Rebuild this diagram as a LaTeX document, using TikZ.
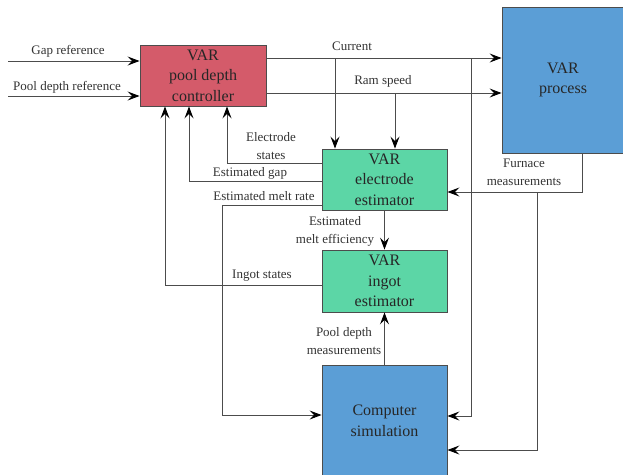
\documentclass[tikz,border=0pt]{standalone}
\usepackage{fontspec}
\setmainfont{Liberation Serif}
\usepackage{xcolor}
\usetikzlibrary{arrows.meta,positioning,calc}

\definecolor{ctrlred}{HTML}{D45B6A}
\definecolor{procblue}{HTML}{5B9ED6}
\definecolor{estgreen}{HTML}{5CD6A6}

\tikzset{
  blk/.style={draw=black!70, line width=0.9pt, align=center, inner sep=0pt,
    text=black!85, font=\fontsize{16}{20.5}\selectfont},
  sig/.style={draw=black!70, line width=0.9pt},
  arr/.style={sig, -{Stealth[length=12pt,width=9pt,inset=4.5pt,black]}},
  lbl/.style={align=center, inner sep=0pt, text=black!80,
    font=\fontsize{13}{18}\selectfont},
}

\begin{document}
\begin{tikzpicture}[x=1pt,y=-1pt]
\useasboundingbox (0,0) rectangle (623,474);

% blocks
\node[blk, fill=ctrlred, minimum width=126pt, minimum height=61pt] (ctrl) at (203,75.5) {VAR\\pool depth\\controller};
\node[blk, fill=procblue, minimum width=122pt, minimum height=146pt] (proc) at (563,80) {VAR\\process};
\node[blk, fill=estgreen, minimum width=125pt, minimum height=61pt] (elec) at (384.5,179.5) {VAR\\electrode\\estimator};
\node[blk, fill=estgreen, minimum width=125pt, minimum height=62pt] (ingot) at (384.5,281) {VAR\\ingot\\estimator};
\node[blk, fill=procblue, minimum width=125pt, minimum height=112pt] (sim) at (384.5,421) {Computer\\simulation};

% junction points
\coordinate (gapin) at (8,61);
\coordinate (poolin) at (8,96);
\coordinate (curtap) at (335,58);
\coordinate (curdn) at (471,58);
\coordinate (ramtap) at (395,93);
\coordinate (furn) at (582,192);
\coordinate (furntap) at (537,192);
\coordinate (esx) at (227,163);
\coordinate (egx) at (189,181);
\coordinate (emx) at (222,205);
\coordinate (isx) at (165,285);
\coordinate (simA) at (0,416);
\coordinate (simB) at (0,415);
\coordinate (simC) at (0,450);

% inputs
\draw[arr] (gapin) -- (gapin -| ctrl.west);
\draw[arr] (poolin) -- (poolin -| ctrl.west);

% controller outputs
\draw[arr] (ctrl.east |- curtap) -- (proc.west |- curtap);
\draw[arr] (curtap) -- (curtap |- elec.north);
\draw[arr] (curdn) |- (simA -| sim.east);
\draw[arr] (ctrl.east |- ramtap) -- (proc.west |- ramtap);
\draw[arr] (ramtap) -- (ramtap |- elec.north);

% furnace measurements
\draw[arr] (furn |- proc.south) -- (furn) -- (furn -| elec.east);
\draw[arr] (furntap) |- (simC -| sim.east);

% estimator feedback
\draw[arr] (elec.west |- esx) -- (esx) -- (esx |- ctrl.south);
\draw[arr] (elec.west |- egx) -- (egx) -- (egx |- ctrl.south);
\draw[arr] (elec.west |- emx) -- (emx) |- (simB -| sim.west);
\draw[arr] (ingot.west |- isx) -- (isx) -- (isx |- ctrl.south);
\draw[arr] (elec.south) -- (ingot.north);
\draw[arr] (sim.north) -- (ingot.south);

% labels
\node[lbl] (gaplbl) at (68,51) {Gap reference};
\node[lbl] (poollbl) at (67,87) {Pool depth reference};
\node[lbl] (curlbl) at (352,46) {Current};
\node[lbl] (ramlbl) at (383,81) {Ram speed};
\node[lbl] (furnlbl) at (524,172) {Furnace\\measurements};
\node[lbl] (eslbl) at (271,146) {Electrode\\states};
\node[lbl] (eglbl) at (250,173) {Estimated gap};
\node[lbl] (emlbl) at (264,196) {Estimated melt rate};
\node[lbl] (islbl) at (262,276) {Ingot states};
\node[lbl] (efflbl) at (335,231) {Estimated\\melt efficiency};
\node[lbl] (pdlbl) at (344,341) {Pool depth\\measurements};
\end{tikzpicture}
\end{document}
